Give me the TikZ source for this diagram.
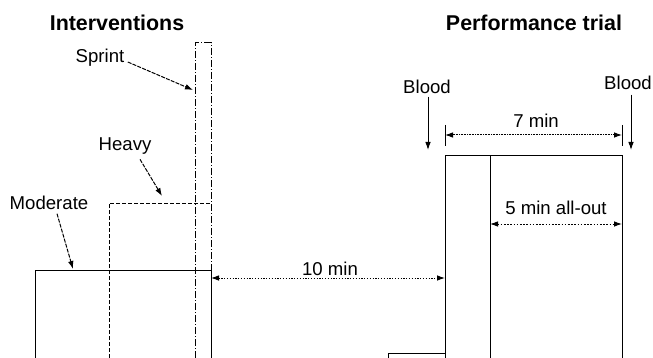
\documentclass[tikz,border=0pt]{standalone}
\usepackage{fontspec}
\setmainfont{Liberation Sans}
\usetikzlibrary{arrows.meta,calc}

\tikzset{
	lbl/.style={inner sep=0pt, anchor=base, font=\fontsize{9.3}{11}\selectfont},
	ttl/.style={inner sep=0pt, anchor=base, font=\bfseries\fontsize{10.7}{13}\selectfont},
	tip/.style={-{Latex[length=4pt,width=2.8pt]}},
	dimline/.style={{Latex[length=4pt,width=2.8pt]}-{Latex[length=4pt,width=2.8pt]}},
}

\begin{document}
\begin{tikzpicture}[x=0.5pt, y=-0.5pt, line width=0.5pt]
		\useasboundingbox (0,0) rectangle (653,358);

		% --- header: titles ---
		\node[ttl] (intv)  at (117,31) {Interventions};
		\node[ttl] (trial) at (534,31) {Performance trial};

		% --- intervention bouts (open at the bottom) ---
		\draw (35,358) -- (35,270) -- (211,270) -- (211,358);
		\draw[dash pattern=on 2pt off 1pt] (109,358) -- (109,203) -- (211,203) -- (211,207);
		\draw[dash pattern=on 3.5pt off 1pt on 0.5pt off 1pt] (195,358) -- (195,43) -- (211,43) -- (211,358);

		% --- bout labels with pointers ---
		\node[lbl] (sprint)   at (100,63)  {Sprint};
		\node[lbl] (heavy)    at (125,150) {Heavy};
		\node[lbl] (moderate) at (49,209)  {Moderate};
		\coordinate (sprintTip)   at (193,90);
		\coordinate (heavyTip)    at (162,196);
		\coordinate (moderateTip) at (73,269);
		\draw[tip, dash pattern=on 2pt off 0.6pt] ($(sprint.base east)+(3,-1)$) -- (sprintTip);
		\draw[tip, dash pattern=on 2pt off 0.6pt] ($(heavy.south)+(15,5)$) -- (heavyTip);
		\draw[tip, dash pattern=on 2pt off 0.6pt] ($(moderate.south)+(8,4)$) -- (moderateTip);

		% --- recovery gap ---
		\coordinate (modEnd)    at (211,278);
		\coordinate (trialBeg)  at (445,278);
		\node[lbl] (gap) at (330,275) {10 min};
		\draw[dimline, dash pattern=on 0.6pt off 0.8pt] (modEnd) -- (trialBeg);

		% --- performance trial block ---
		\draw (445,358) -- (445,155) -- (622,155) -- (622,358);
		\draw (490,155) -- (490,358);
		\draw (388,358) -- (388,353) -- (445,353);

		% --- blood samples ---
		\foreach \nm/\xx/\yy in {bloodL/427/94, bloodR/628/90} {
			\node[lbl] (\nm) at (\xx,\yy) {Blood};
		}
		\coordinate (bloodLTip) at (428,150);
		\coordinate (bloodRTip) at (631,150);
		\draw[tip] ($(bloodL.south -| bloodLTip)+(0,2)$) -- (bloodLTip);
		\draw[tip] ($(bloodR.south -| bloodRTip)+(0,4)$) -- (bloodRTip);

		% --- 7 min: whole trial, with end ticks ---
		\foreach \xx in {445,622} {
			\draw (\xx,125) -- (\xx,146);
		}
		\coordinate (sevenA) at (445,135);
		\coordinate (sevenB) at (622,135);
		\node[lbl] (seven) at (536,127) {7 min};
		\draw[dimline, dash pattern=on 0.5pt off 0.3pt] (sevenA) -- (sevenB);

		% --- 5 min all-out part ---
		\coordinate (allA) at (490,224);
		\coordinate (allB) at (622,224);
		\node[lbl] (allout) at (556,214) {5 min all-out};
		\draw[dimline, dash pattern=on 0.8pt off 0.8pt] (allA) -- (allB);
	\end{tikzpicture}
\end{document}
